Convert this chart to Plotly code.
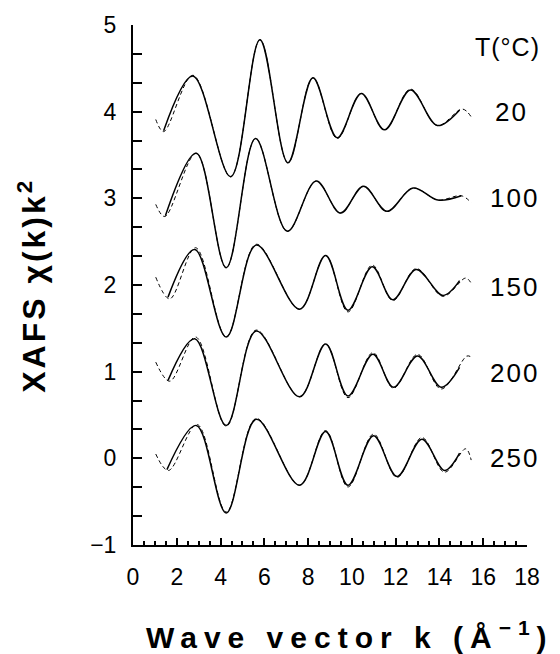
import plotly.graph_objects as go

# ---- data (k in 1/Angstrom, chi(k)k^2 with vertical offsets) ----
temps = ["20", "100", "150", "200", "250"]
label_y = [4.0, 3.0, 1.98, 0.99, 0.0]

k_20_exp = [1.40, 2.74, 4.46, 5.80, 7.08, 8.22, 9.33, 10.43, 11.49, 12.68, 13.90, 14.92]
y_20_exp = [3.78, 4.41, 3.25, 4.83, 3.41, 4.39, 3.70, 4.21, 3.79, 4.25, 3.84, 4.02]
k_20_fit = [1.04, 1.40, 2.74, 4.46, 5.80, 7.08, 8.22, 9.33, 10.43, 11.49, 12.68, 13.90, 15.05, 15.45]
y_20_fit = [3.91, 3.77, 4.42, 3.25, 4.83, 3.41, 4.39, 3.69, 4.21, 3.79, 4.26, 3.84, 4.03, 3.94]

k_100_exp = [1.48, 2.89, 4.26, 5.60, 7.05, 8.37, 9.48, 10.53, 11.60, 12.79, 13.93, 15.00]
y_100_exp = [2.80, 3.52, 2.20, 3.69, 2.62, 3.20, 2.83, 3.14, 2.85, 3.12, 2.98, 3.03]
k_100_fit = [1.04, 1.45, 2.89, 4.26, 5.60, 7.05, 8.37, 9.48, 10.53, 11.60, 12.79, 13.93, 15.00, 15.45]
y_100_fit = [2.93, 2.79, 3.52, 2.20, 3.69, 2.62, 3.20, 2.83, 3.14, 2.85, 3.12, 2.98, 3.03, 2.95]

k_150_exp = [1.60, 2.82, 4.26, 5.63, 7.61, 8.80, 9.82, 10.93, 11.87, 12.94, 14.16, 14.92]
y_150_exp = [1.86, 2.41, 1.40, 2.46, 1.72, 2.34, 1.71, 2.21, 1.83, 2.18, 1.88, 2.05]
k_150_fit = [1.04, 1.68, 2.86, 4.26, 5.63, 7.61, 8.80, 9.82, 10.93, 11.87, 12.94, 14.16, 15.20, 15.45]
y_150_fit = [2.09, 1.84, 2.43, 1.40, 2.47, 1.72, 2.34, 1.69, 2.23, 1.82, 2.19, 1.87, 2.08, 2.02]

k_200_exp = [1.60, 2.82, 4.26, 5.63, 7.61, 8.80, 9.82, 10.96, 11.90, 13.00, 14.08, 14.92]
y_200_exp = [0.90, 1.38, 0.38, 1.47, 0.71, 1.32, 0.72, 1.20, 0.82, 1.18, 0.82, 1.05]
k_200_fit = [1.04, 1.68, 2.86, 4.26, 5.63, 7.61, 8.80, 9.82, 10.96, 11.90, 13.00, 14.08, 15.25, 15.45]
y_200_fit = [1.11, 0.89, 1.40, 0.37, 1.48, 0.71, 1.32, 0.70, 1.22, 0.81, 1.20, 0.80, 1.18, 1.17]

k_250_exp = [1.55, 2.89, 4.26, 5.63, 7.61, 8.80, 9.82, 10.99, 12.06, 13.20, 14.23, 14.92]
y_250_exp = [-0.13, 0.38, -0.63, 0.45, -0.31, 0.31, -0.31, 0.26, -0.21, 0.22, -0.14, 0.06]
k_250_fit = [1.04, 1.62, 2.93, 4.26, 5.63, 7.61, 8.80, 9.82, 10.99, 12.06, 13.20, 14.23, 15.20, 15.45]
y_250_fit = [0.05, -0.14, 0.39, -0.62, 0.46, -0.31, 0.32, -0.33, 0.28, -0.22, 0.24, -0.16, 0.11, -0.02]

x_ticks = [0, 2, 4, 6, 8, 10, 12, 14, 16, 18]
y_ticks = [-1, 0, 1, 2, 3, 4, 5]

exp_sets = [(k_20_exp, y_20_exp), (k_100_exp, y_100_exp), (k_150_exp, y_150_exp),
            (k_200_exp, y_200_exp), (k_250_exp, y_250_exp)]
fit_sets = [(k_20_fit, y_20_fit), (k_100_fit, y_100_fit), (k_150_fit, y_150_fit),
            (k_200_fit, y_200_fit), (k_250_fit, y_250_fit)]

FONT = "Liberation Sans, Arial, Helvetica, sans-serif"

fig = go.Figure()
for (kf, yf), t in zip(fit_sets, temps):
    fig.add_trace(go.Scatter(x=kf, y=yf, mode="lines", name=t + " fit",
                             line=dict(color="black", width=1, dash="4px,3px",
                                       shape="spline", smoothing=1.0),
                             showlegend=False))
for (ke, ye), t in zip(exp_sets, temps):
    fig.add_trace(go.Scatter(x=ke, y=ye, mode="lines", name=t,
                             line=dict(color="black", width=1.5,
                                       shape="spline", smoothing=1.0),
                             showlegend=False))

annotations = []
for t, yl in zip(temps, label_y):
    annotations.append(dict(x=16.45 if t == "20" else 16.2, y=yl, xref="x", yref="y",
                            text='<span style="letter-spacing:2px">' + t + '</span>',
                            showarrow=False, xanchor="left", yanchor="middle",
                            font=dict(family=FONT, size=26, color="black")))
annotations.append(dict(x=15.55, y=4.75, xref="x", yref="y",
                        text='<span style="letter-spacing:1px">T(°C)</span>',
                        showarrow=False, xanchor="left", yanchor="middle",
                        font=dict(family=FONT, size=25, color="black")))
annotations.append(dict(x=-0.257, y=0.5, xref="paper", yref="paper", textangle=-90,
                        text='<span style="letter-spacing:3px"><b>XAFS χ(k)k<sup>2</sup></b></span>',
                        showarrow=False, xanchor="center", yanchor="middle",
                        font=dict(family=FONT, size=32, color="black")))
annotations.append(dict(x=0.55, y=-0.174, xref="paper", yref="paper",
                        text='<span style="letter-spacing:7px"><b>Wave vector k (Å<sup>−1</sup>)</b></span>',
                        showarrow=False, xanchor="center", yanchor="middle",
                        font=dict(family=FONT, size=30, color="black")))

fig.update_layout(
    width=560, height=654,
    margin=dict(l=133, r=33, t=23, b=109),
    paper_bgcolor="white", plot_bgcolor="white",
    font=dict(family=FONT, color="black"),
    annotations=annotations,
)
fig.update_xaxes(range=[0, 18], tickvals=x_ticks, ticks="inside", ticklen=7, tickwidth=1.5,
                 tickcolor="black", showline=True, linewidth=2, linecolor="black",
                 showgrid=False, zeroline=False, mirror=False,
                 tickfont=dict(family=FONT, size=23, color="black"), ticklabelstandoff=10,
                 minor=dict(dtick=0.5, tick0=0, ticks="inside", ticklen=4, tickwidth=1.5,
                            tickcolor="black", showgrid=False))
fig.update_yaxes(range=[-1, 5], tickvals=y_ticks, ticks="inside", ticklen=9, tickwidth=1.5,
                 tickcolor="black", showline=True, linewidth=2, linecolor="black",
                 showgrid=False, zeroline=False, mirror=False,
                 tickfont=dict(family=FONT, size=23, color="black"), ticklabelstandoff=10,
                 minor=dict(dtick=1/3, tick0=-1, ticks="inside", ticklen=9, tickwidth=1.5,
                            tickcolor="black", showgrid=False))

fig.write_html("out.html", config={"displayModeBar": False},
               post_script="document.body.style.margin='0px';")
